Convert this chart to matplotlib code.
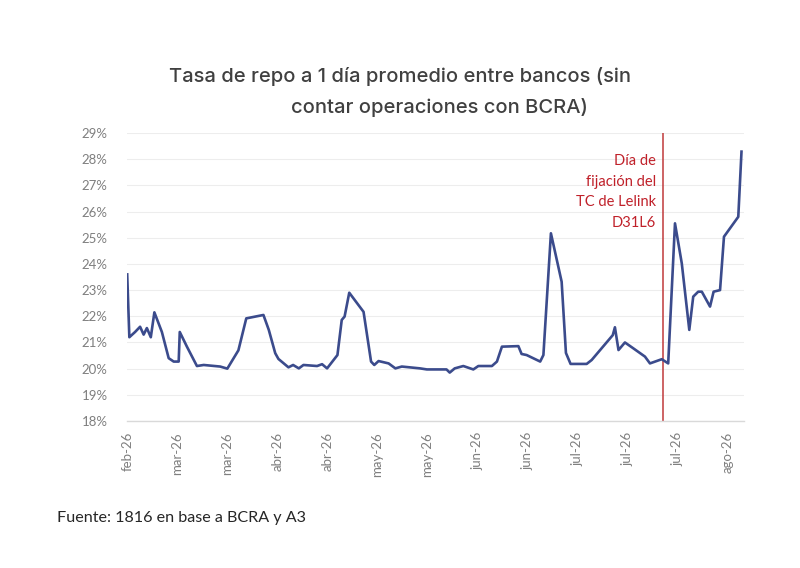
import matplotlib
matplotlib.use("Agg")
import matplotlib.pyplot as plt
from matplotlib.ticker import FuncFormatter, FixedLocator

# ---- data (days since first observation, rate in %) ----
days = [0, 0.6, 2.2, 3.6, 4.6, 5.5, 6.6, 7.6, 9.7, 11.6, 13.0, 14.4, 14.7, 16.7,
        19.5, 21.4, 26.0, 28.0, 31.1, 33.3, 38.1, 39.6, 41.4, 42.3, 45.1, 46.4,
        48.0, 49.3, 53.1, 54.5, 55.9, 58.8, 60.0, 60.8, 62.1, 66.1, 68.2, 69.1,
        70.3, 73.1, 75.0, 76.8, 81.9, 83.8, 89.3, 90.2, 91.6, 94.0, 96.8, 98.2,
        102.0, 103.4, 104.8, 109.4, 110.3, 111.7, 115.5, 116.4, 118.5, 121.5,
        122.7, 124.0, 128.5, 129.9, 135.8, 136.4, 137.4, 139.2, 141.5, 144.8,
        146.2, 149.5, 151.3, 153.2, 155.1, 157.2, 158.3, 159.7, 160.7, 163.0,
        164.0, 165.8, 166.9, 170.9, 171.8]
rate = [23.6, 21.2, 21.4, 21.6, 21.3, 21.55, 21.2, 22.15, 21.4, 20.4, 20.27, 20.27,
        21.4, 20.84, 20.1, 20.14, 20.08, 20.0, 20.7, 21.92, 22.05, 21.48, 20.59,
        20.37, 20.05, 20.14, 20.01, 20.14, 20.1, 20.17, 20.01, 20.52, 21.86, 21.99,
        22.9, 22.17, 20.27, 20.14, 20.29, 20.2, 20.01, 20.08, 20.01, 19.97, 19.97,
        19.85, 20.01, 20.1, 19.97, 20.1, 20.1, 20.27, 20.84, 20.86, 20.56, 20.52,
        20.27, 20.52, 25.17, 23.32, 20.6, 20.18, 20.18, 20.33, 21.28, 21.58, 20.71,
        21.0, 20.78, 20.46, 20.2, 20.36, 20.2, 25.55, 24.02, 21.48, 22.75, 22.94,
        22.94, 22.37, 22.94, 23.0, 25.04, 25.8, 28.29]

tick_days = [0, 14, 28, 42, 56, 70, 84, 98, 112, 126, 140, 154, 168]
tick_labels = ["feb-26", "mar-26", "mar-26", "abr-26", "abr-26", "may-26", "may-26",
               "jun-26", "jun-26", "jul-26", "jul-26", "jul-26", "ago-26"]
y_ticks = list(range(18, 30))
event_day = 149.8
event_text = "Día de\nfijación del\nTC de Lelink\nD31L6"

title_l1 = "Tasa de repo a 1 día promedio entre bancos (sin"
title_l2 = "contar operaciones con BCRA)"
source = "Fuente: 1816 en base a BCRA y A3"

# ---- figure ----
fig = plt.figure(figsize=(8.0, 5.68), dpi=100)
fig.patch.set_facecolor("white")
ax = fig.add_axes([0.159, 0.2588, 0.771, 0.507])

ax.plot(days, rate, color="#3B4B8C", lw=1.9, solid_joinstyle="round", zorder=3)
ax.axvline(event_day, color="#C0393B", lw=1.1, zorder=2)
ax.text(event_day - 2.0, 28.2, event_text, color="#C0212A", ha="right", va="top",
        fontsize=10.5, family="Lato", linespacing=1.6)

ax.set_xlim(0, 172.5)
ax.set_ylim(18, 29)
ax.yaxis.set_major_locator(FixedLocator(y_ticks))
ax.yaxis.set_major_formatter(FuncFormatter(lambda v, p: f"{int(round(v))}%"))
ax.set_xticks(tick_days)
ax.set_xticklabels(tick_labels, rotation=90)

ax.grid(axis="y", color="#EDEDED", lw=0.8)
ax.set_axisbelow(True)
for s in ["top", "right", "left"]:
    ax.spines[s].set_visible(False)
ax.spines["bottom"].set_color("#D9D9D9")
ax.spines["bottom"].set_linewidth(1.0)
ax.tick_params(axis="both", length=0, colors="#7F7F7F", labelsize=9.5)
ax.tick_params(axis="y", pad=14)
ax.tick_params(axis="x", pad=8)
for lab in ax.get_xticklabels() + ax.get_yticklabels():
    lab.set_family("Lato")

fig.text(0.500, 0.866, title_l1, ha="center", va="center", fontsize=14.5,
         family="Inter", weight="medium", color="#404040")
fig.text(0.549, 0.811, title_l2, ha="center", va="center", fontsize=14.5,
         family="Inter", weight="medium", color="#404040")
fig.text(0.071, 0.088, source, ha="left", va="center", fontsize=11.6,
         family="Lato", color="#262626")

fig.savefig("out.png", dpi=100, facecolor="white")
